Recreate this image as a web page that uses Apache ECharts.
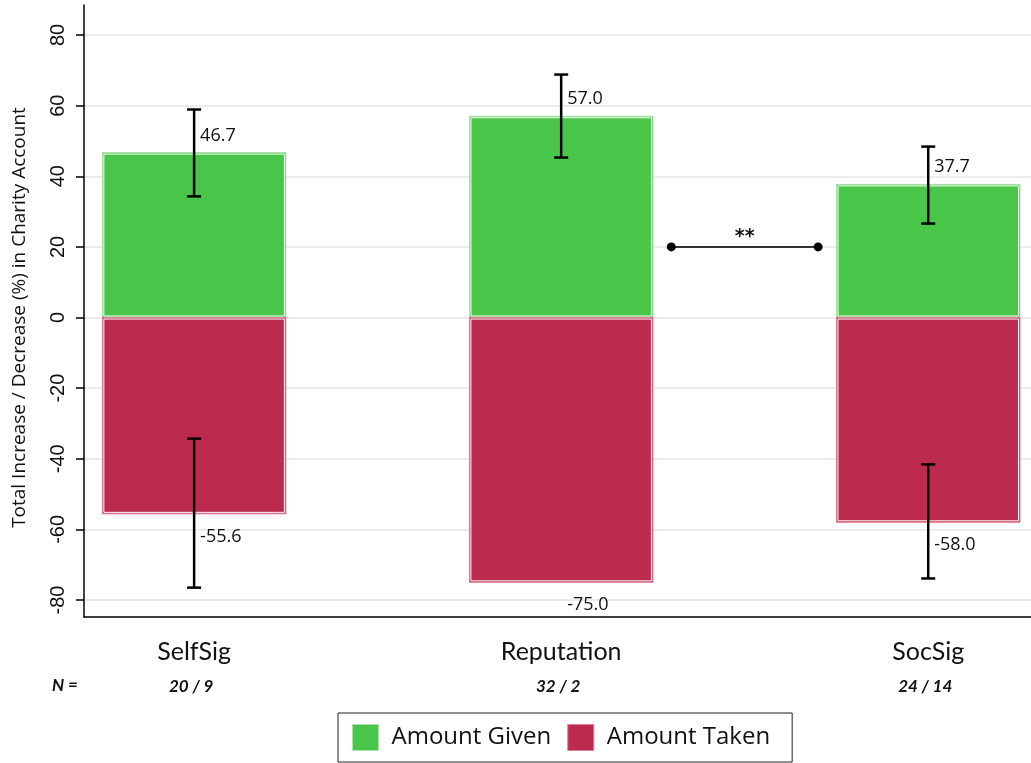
<!DOCTYPE html>
<html><head><meta charset="utf-8">
<script src="https://cdn.jsdelivr.net/npm/echarts@6/dist/echarts.min.js"></script>
<style>html,body{margin:0;padding:0;background:#fff}#c{width:1031px;height:763px}</style>
</head><body><div id="c"></div>
<script>
const categories = ['SelfSig', 'Reputation', 'SocSig'];
const sampleSizes = ['20 / 9', '32 / 2', '24 / 14'];
const amountGiven = [46.7, 57.0, 37.7];
const amountTaken = [-55.6, -75.0, -58.0];
const givenErrLow = [34.3, 45.3, 26.6];
const givenErrHigh = [58.9, 68.8, 48.4];
const takenErrLow = [-76.5, null, -73.9];
const takenErrHigh = [-34.3, null, -41.6];
const yTicks = [-80, -60, -40, -20, 0, 20, 40, 60, 80];
const sigFrom = 2.3, sigTo = 2.7, sigLevel = 20, sigLabel = '**';
const yTitle = 'Total Increase / Decrease (%) in Charity Account';

const xs = categories.map((_, i) => i + 1);
const GREEN = '#49c649', GREEN_EDGE = '#a9e4a9';
const RED = '#bc2b4d', RED_EDGE = '#e07d94';
const XMIN = 0.7, XMAX = 3.28;

function barRender(color, edge) {
  return function (params, api) {
    const x = api.value(0), v = api.value(1);
    const a = api.coord([x - 0.25, v]), b = api.coord([x + 0.25, 0]);
    const rx = a[0], ry = Math.min(a[1], b[1]), rw = b[0] - a[0], rh = Math.abs(b[1] - a[1]);
    return { type: 'group', children: [
      { type: 'rect', shape: { x: rx, y: ry, width: rw, height: rh }, style: { fill: color, stroke: edge, lineWidth: 1 } },
      { type: 'rect', shape: { x: rx + 1.5, y: ry + 1.5, width: rw - 3, height: rh - 3 }, style: { fill: 'none', stroke: '#ffffff', lineWidth: 1 } }
    ]};
  };
}
function errRender(params, api) {
  const x = api.value(0), lo = api.value(1), hi = api.value(2);
  const pl = api.coord([x, lo]), ph = api.coord([x, hi]);
  const c = 7, st = { stroke: '#000', lineWidth: 2.5 };
  return { type: 'group', children: [
    { type: 'line', shape: { x1: pl[0], y1: pl[1], x2: ph[0], y2: ph[1] }, style: st },
    { type: 'line', shape: { x1: pl[0] - c, y1: pl[1], x2: pl[0] + c, y2: pl[1] }, style: st },
    { type: 'line', shape: { x1: ph[0] - c, y1: ph[1], x2: ph[0] + c, y2: ph[1] }, style: st }
  ]};
}
function labelRender(params, api) {
  const x = api.value(0), v = api.value(1);
  const p = api.coord([x, v]);
  return { type: 'text', x: p[0] + 6, y: p[1] + (v >= 0 ? -17 : 23),
    style: { text: v.toFixed(1), fill: '#111', fontSize: 18, fontFamily: 'Open Sans', align: 'left', verticalAlign: 'middle' } };
}
function sigRender(params, api) {
  const a = api.coord([api.value(0), api.value(2)]), b = api.coord([api.value(1), api.value(2)]);
  return { type: 'group', children: [
    { type: 'line', shape: { x1: a[0], y1: a[1], x2: b[0], y2: b[1] }, style: { stroke: '#333', lineWidth: 2 } },
    { type: 'circle', shape: { cx: a[0], cy: a[1], r: 4.5 }, style: { fill: '#000' } },
    { type: 'circle', shape: { cx: b[0], cy: b[1], r: 4.5 }, style: { fill: '#000' } },
    { type: 'text', x: (a[0] + b[0]) / 2, y: a[1] - 10, style: { text: sigLabel, fill: '#111', fontSize: 19, fontWeight: 'bold', fontFamily: 'DejaVu Sans', align: 'center', verticalAlign: 'middle' } }
  ]};
}

const givenErr = xs.map((x, i) => [x, givenErrLow[i], givenErrHigh[i]]);
const takenErr = xs.map((x, i) => [x, takenErrLow[i], takenErrHigh[i]]).filter(d => d[1] != null);
const labels = xs.map((x, i) => [x, amountGiven[i]]).concat(xs.map((x, i) => [x, amountTaken[i]]));

const chart = echarts.init(document.getElementById('c'), null, { renderer: 'canvas' });
chart.setOption({
  animation: false,
  backgroundColor: '#fff',
  grid: [
    { left: 84, right: 0, top: 35, bottom: 163 },
    { left: 84, right: 0, top: 5, bottom: 146 }
  ],
  xAxis: [
    { gridIndex: 0, type: 'value', min: XMIN, max: XMAX, show: false },
    { gridIndex: 1, type: 'value', min: XMIN, max: XMAX,
      axisLine: { show: true, lineStyle: { color: '#000', width: 1.5 } },
      axisTick: { show: false }, splitLine: { show: false },
      axisLabel: { customValues: xs, margin: 20,
        formatter: v => '{c|' + categories[Math.round(v) - 1] + '}\n{n|' + sampleSizes[Math.round(v) - 1] + '}',
        rich: {
          c: { fontFamily: 'Lato', fontSize: 25, color: '#111', lineHeight: 30 },
          n: { fontFamily: 'Lato', fontSize: 17, fontStyle: 'italic', fontWeight: 'bold', color: '#111', lineHeight: 40, padding: [0, 6, 0, 0] }
        } } }
  ],
  yAxis: [
    { gridIndex: 0, type: 'value', min: yTicks[0], max: yTicks[yTicks.length - 1], interval: 20,
      name: yTitle, nameLocation: 'middle', nameGap: 55,
      nameTextStyle: { fontFamily: 'Open Sans', fontSize: 19, color: '#111' },
      axisLine: { show: false },
      axisTick: { show: true, length: 8, lineStyle: { color: '#000', width: 1.5 } },
      axisLabel: { rotate: 90, margin: 16, fontFamily: '"Liberation Sans Narrow", "Liberation Sans"', fontSize: 20, color: '#111' },
      splitLine: { show: true, lineStyle: { color: '#e6e6e6', width: 1.5 } } },
    { gridIndex: 1, type: 'value', min: 0, max: 1,
      axisLine: { show: true, lineStyle: { color: '#000', width: 1.5 } },
      axisTick: { show: false }, axisLabel: { show: false }, splitLine: { show: false } }
  ],
  legend: {
    left: 338, top: 713, orient: 'horizontal', icon: 'rect', itemWidth: 26, itemHeight: 26, itemGap: 16,
    borderColor: '#222', borderWidth: 1, padding: [11, 22, 11, 14],
    textStyle: { fontFamily: 'Open Sans', fontSize: 24, color: '#111', padding: [0, 0, 0, 8] },
    data: [
      { name: 'Amount Given', itemStyle: { color: GREEN, borderColor: GREEN_EDGE, borderWidth: 1 } },
      { name: 'Amount Taken', itemStyle: { color: RED, borderColor: RED_EDGE, borderWidth: 1 } }
    ]
  },
  graphic: [
    { type: 'text', left: 52, top: 677, style: { text: 'N =', fontFamily: 'Lato', fontSize: 17, fontStyle: 'italic', fontWeight: 'bold', fill: '#111' } }
  ],
  series: [
    { name: 'Amount Given', type: 'custom', xAxisIndex: 0, yAxisIndex: 0, z: 2, itemStyle: { color: GREEN },
      renderItem: barRender(GREEN, GREEN_EDGE), data: xs.map((x, i) => [x, amountGiven[i]]) },
    { name: 'Amount Taken', type: 'custom', xAxisIndex: 0, yAxisIndex: 0, z: 2, itemStyle: { color: RED },
      renderItem: barRender(RED, RED_EDGE), data: xs.map((x, i) => [x, amountTaken[i]]) },
    { name: 'givenErr', type: 'custom', z: 3, renderItem: errRender, data: givenErr },
    { name: 'takenErr', type: 'custom', z: 3, renderItem: errRender, data: takenErr },
    { name: 'labels', type: 'custom', z: 4, renderItem: labelRender, data: labels },
    { name: 'sig', type: 'custom', z: 4, renderItem: sigRender, data: [[sigFrom, sigTo, sigLevel]] }
  ]
});
</script></body></html>
